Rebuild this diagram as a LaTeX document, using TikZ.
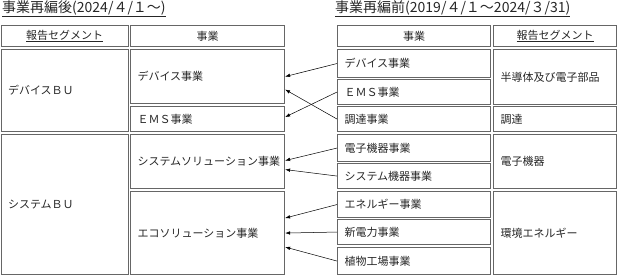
\documentclass[tikz,border=0pt]{standalone}
\usepackage{fontspec}
\setmainfont{Noto Sans CJK JP}
\usepackage{tikz}
\usetikzlibrary{arrows.meta}

\begin{document}
\begin{tikzpicture}[x=1pt, y=-1pt,
    box/.style={rectangle, draw=black!60, line width=1.1pt, anchor=north west, inner xsep=7pt, inner ysep=2pt, align=left, font=\fontsize{11}{12}\selectfont, text=black!85},
    head/.style={box, align=center, minimum height=21pt},
    title/.style={anchor=west, inner sep=0pt, font=\fontsize{14}{15}\selectfont, text=black!85},
    arrow/.style={-{Latex[length=5pt, width=3.5pt]}, line width=0.5pt}
]
\useasboundingbox (0,0) rectangle (617,275);

\node[title] (afterT) at (2,9) {\underline{事業再編後(2024/４/１～)}};
\node[title] (beforeT) at (335,9) {\underline{事業再編前(2019/４/１～2024/３/31)}};

\node[head, text width=113pt] (segLh) at (0.5,25) {\underline{報告セグメント}};
\node[head, text width=140pt] (bizLh) at (130,25) {事業};
\node[box, text width=113pt, minimum height=82pt] (devBU) at (0.5,49) {デバイスＢＵ};
\node[box, text width=140pt, minimum height=54pt] (devL) at (130,49) {デバイス事業};
\node[box, text width=140pt, minimum height=25pt] (emsL) at (130,106) {ＥＭＳ事業};
\node[box, text width=113pt, minimum height=140pt] (sysBU) at (0.5,134) {システムＢＵ};
\node[box, text width=140pt, minimum height=54pt] (solL) at (130,134) {システムソリューション事業};
\node[box, text width=140pt, minimum height=83pt] (ecoL) at (130,191) {エコソリューション事業};

\node[head, text width=139pt] (bizRh) at (337,25) {事業};
\node[head, text width=109pt] (segRh) at (493,25) {\underline{報告セグメント}};
\node[box, text width=139pt, minimum height=28pt] (devR) at (337,49) {デバイス事業};
\node[box, text width=139pt, minimum height=25pt] (emsR) at (337,79) {ＥＭＳ事業};
\node[box, text width=139pt, minimum height=25pt] (procR) at (337,106) {調達事業};
\node[box, text width=139pt, minimum height=27pt] (elecR) at (337,134) {電子機器事業};
\node[box, text width=139pt, minimum height=25pt] (sysR) at (337,163) {システム機器事業};
\node[box, text width=139pt, minimum height=26pt] (enerR) at (337,191) {エネルギー事業};
\node[box, text width=139pt, minimum height=25pt] (powerR) at (337,219) {新電力事業};
\node[box, text width=139pt, minimum height=27pt] (plantR) at (337,247) {植物工場事業};
\node[box, text width=109pt, minimum height=55pt] (semiSeg) at (493,49) {半導体及び電子部品};
\node[box, text width=109pt, minimum height=25pt] (procSeg) at (493,106) {調達};
\node[box, text width=109pt, minimum height=54pt] (elecSeg) at (493,134) {電子機器};
\node[box, text width=109pt, minimum height=83pt] (envSeg) at (493,191) {環境エネルギー};

\draw[arrow] (devR.west) -- (devL.east);
\draw[arrow] (emsR.west) -- ([yshift=2pt]emsL.east);
\draw[arrow] (procR.west) -- ([yshift=-13pt]devL.east);
\draw[arrow] (elecR.west) -- ([yshift=1pt]solL.east);
\draw[arrow] (sysR.west) -- ([yshift=-8pt]solL.east);
\draw[arrow] (enerR.west) -- ([yshift=15pt]ecoL.east);
\draw[arrow] (powerR.west) -- (ecoL.east);
\draw[arrow] (plantR.west) -- ([yshift=-14pt]ecoL.east);
\end{tikzpicture}
\end{document}
